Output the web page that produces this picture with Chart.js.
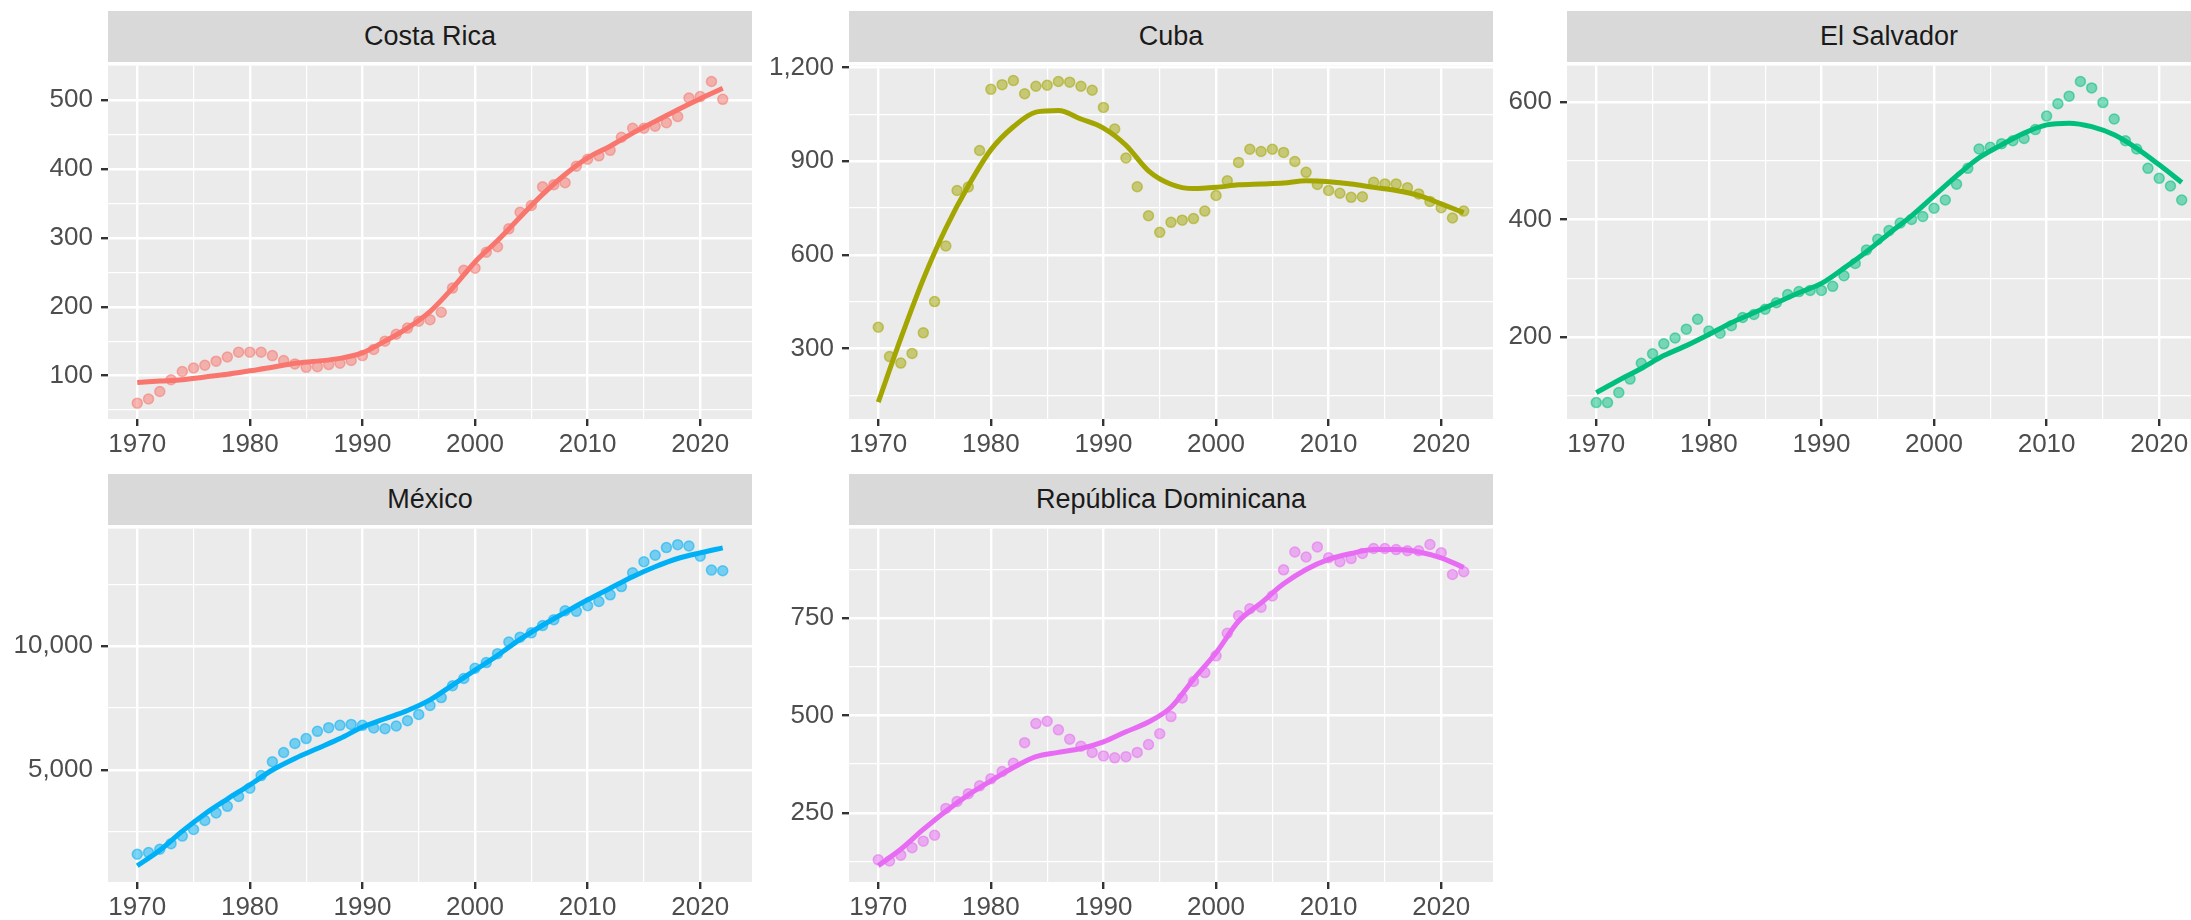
<!DOCTYPE html>
<html><head><meta charset="utf-8">
<script src="https://cdn.jsdelivr.net/npm/chart.js@4/dist/chart.umd.min.js"></script>
<style>
html,body{margin:0;padding:0;background:#fff;overflow:hidden;width:2191px;height:920px;}
#wrap{position:relative;width:2191px;height:920px;overflow:hidden;}
.strip{position:absolute;background:#D9D9D9;color:#1A1A1A;font-family:"Liberation Sans",Arial,sans-serif;font-size:27px;display:flex;align-items:center;justify-content:center;white-space:nowrap;}
canvas{position:absolute;}
</style></head><body><div id="wrap"></div>
<script>
// ---- data ----
const years = [1970,1971,1972,1973,1974,1975,1976,1977,1978,1979,1980,1981,1982,1983,1984,1985,1986,1987,1988,1989,1990,1991,1992,1993,1994,1995,1996,1997,1998,1999,2000,2001,2002,2003,2004,2005,2006,2007,2008,2009,2010,2011,2012,2013,2014,2015,2016,2017,2018,2019,2020,2021,2022];
const smoothYears = [1970,1972,1974,1976,1978,1980,1982,1984,1986,1988,1990,1992,1994,1996,1998,2000,2002,2004,2006,2008,2010,2012,2014,2016,2018,2020,2022];
const xTickValues = [1970,1975,1980,1985,1990,1995,2000,2005,2010,2015,2020];

const costaRica = [60,66,77,94,106,111,115,121,127,134, 134,134,129,122,117,112,113,116,118,122, 129,138,150,160,169,179,181,192,227,253, 256,279,287,313,337,347,374,377,380,404, 414,419,427,446,459,459,462,467,476,503, 505,527,501];
const costaRicaSmooth = [90,92,94,98,102,107,112,118,121,125,133,150,169,193,227,265,296,330,363,392,416,433,452,469,486,502,517];

const cuba = [368,274,253,284,350,450,628,806,817,934, 1130,1145,1158,1116,1140,1143,1155,1153,1140,1127, 1072,1003,910,818,725,672,704,711,716,740, 790,837,896,938,931,938,928,899,864,825, 806,797,784,786,832,827,827,815,795,771, 751,718,740];
const cubaSmooth = [128,332,522,685,821,936,1010,1057,1062,1035,1006,951,869,826,812,816,824,827,830,837,834,827,816,806,790,763,735];

const elSalvador = [88,88,105,128,155,171,188,198,213,230, 210,206,219,233,238,247,258,272,277,279, 279,286,304,325,348,366,381,394,400,405, 419,433,460,487,520,523,529,534,538,553, 576,597,610,635,624,599,571,534,520,487, 470,457,433];
const elSalvadorSmooth = [105,126,146,168,185,204,224,241,258,275,291,317,345,376,406,440,474,505,527,547,561,564,558,544,521,493,463];

const mexico = [1600,1667,1800,2027,2333,2600,2960,3267,3533,3933, 4267,4773,5333,5707,6067,6267,6560,6707,6800,6840, 6800,6693,6667,6773,6987,7240,7600,7920,8400,8693, 9107,9333,9693,10160,10360,10533,10827,11067,11427,11400, 11627,11800,12067,12400,12960,13400,13667,13973,14093,14040, 13627,13067,13040];
const mexicoSmooth = [1133,1760,2533,3227,3827,4400,5000,5467,5867,6267,6733,7067,7400,7827,8427,9027,9627,10267,10840,11360,11867,12333,12800,13200,13533,13760,13960];

const repDominicana = [129,126,141,160,177,192,261,279,299,319, 337,356,377,430,479,485,463,439,421,405, 396,391,394,405,425,453,497,545,587,610, 653,711,756,774,778,807,874,920,907,933, 905,895,903,916,929,929,926,923,923,939, 918,862,869];
const repDominicanaSmooth = [114,156,207,254,296,332,366,394,405,415,432,458,483,521,593,661,742,789,838,875,901,916,926,926,920,905,880];

const crMajor = [100,200,300,400,500], crMinor = [50,150,250,350,450];
const cuMajor = [300,600,900,1200], cuMinor = [150,450,750,1050];
const esMajor = [200,400,600], esMinor = [100,300,500];
const mxMajor = [5000,10000], mxMinor = [2500,7500,12500];
const drMajor = [250,500,750], drMinor = [125,375,625,875];

// ---- layout ----
const COL_L = [108, 849, 1567], ROW_T = [62, 525], STRIP_T = [11, 474];
const PW = 644, PH = 357, AXW = 120, PADT = 20, PADR = 20, AXH = 70, STRIP_H = 51;
const FONT = '"Liberation Sans", Arial, sans-serif';

const panels = [
  {name:'Costa Rica', color:[248,118,109], pts:costaRica, sm:costaRicaSmooth, yMin:37, yMax:550, major:crMajor, minor:crMinor, col:0, row:0},
  {name:'Cuba', color:[163,165,0], pts:cuba, sm:cubaSmooth, yMin:74, yMax:1206, major:cuMajor, minor:cuMinor, col:1, row:0},
  {name:'El Salvador', color:[0,191,125], pts:elSalvador, sm:elSalvadorSmooth, yMin:60, yMax:662, major:esMajor, minor:esMinor, col:2, row:0},
  {name:'México', color:[0,176,246], pts:mexico, sm:mexicoSmooth, yMin:480, yMax:14740, major:mxMajor, minor:mxMinor, col:0, row:1},
  {name:'República Dominicana', color:[231,107,243], pts:repDominicana, sm:repDominicanaSmooth, yMin:72, yMax:980, major:drMajor, minor:drMinor, col:1, row:1}
];

const rgba = (c,a) => `rgba(${c[0]},${c[1]},${c[2]},${a})`;
const bgPlugin = {id:'panelBg', beforeDraw(chart){const a=chart.chartArea,ctx=chart.ctx;ctx.save();ctx.fillStyle='#EBEBEB';ctx.fillRect(a.left,a.top,a.right-a.left,a.bottom-a.top);ctx.restore();}};

const wrap = document.getElementById('wrap');
panels.forEach(p => {
  const left = COL_L[p.col], top = ROW_T[p.row];
  const s = document.createElement('div');
  s.className = 'strip'; s.textContent = p.name;
  s.style.left = left+'px'; s.style.top = STRIP_T[p.row]+'px';
  s.style.width = PW+'px'; s.style.height = STRIP_H+'px';
  wrap.appendChild(s);
  const cv = document.createElement('canvas');
  cv.width = AXW+PW+PADR; cv.height = PADT+PH+AXH;
  cv.style.left = (left-AXW)+'px'; cv.style.top = (top-PADT)+'px';
  cv.style.width = cv.width+'px'; cv.style.height = cv.height+'px';
  wrap.appendChild(cv);
  const majorSet = new Set(p.major);
  const yTicks = p.major.concat(p.minor).sort((a,b)=>a-b);
  new Chart(cv, {
    type:'scatter',
    data:{datasets:[
      {type:'line', data:smoothYears.map((x,i)=>({x, y:p.sm[i]})), borderColor:rgba(p.color,1), borderWidth:5, pointRadius:0, cubicInterpolationMode:'monotone', fill:false, order:0},
      {type:'scatter', data:years.map((x,i)=>({x, y:p.pts[i]})), backgroundColor:rgba(p.color,0.5), borderColor:rgba(p.color,0.55), borderWidth:1.5, pointRadius:5, order:1}
    ]},
    options:{
      responsive:false, animation:false, devicePixelRatio:1, events:[],
      layout:{padding:{top:PADT, right:PADR, left:0, bottom:0}},
      plugins:{legend:{display:false}, tooltip:{enabled:false}, title:{display:false}},
      scales:{
        x:{type:'linear', min:1967.4, max:2024.6,
          afterBuildTicks:sc=>{sc.ticks = xTickValues.map(v=>({value:v}));},
          afterFit:sc=>{sc.height = AXH;},
          border:{display:false},
          grid:{color:'#FFFFFF', lineWidth:c=>(c.tick && c.tick.value%10===0)?2.4:1.2, drawTicks:true, tickLength:7,
                tickColor:c=>(c.tick && c.tick.value%10===0)?'#333333':'rgba(0,0,0,0)', tickWidth:2.4},
          ticks:{autoSkip:false, maxRotation:0, minRotation:0, padding:3, color:'#4D4D4D', font:{family:FONT, size:26},
                 callback:v=>(v%10===0)?String(v):''}
        },
        y:{type:'linear', min:p.yMin, max:p.yMax,
          afterBuildTicks:sc=>{sc.ticks = yTicks.map(v=>({value:v}));},
          afterFit:sc=>{sc.width = AXW;},
          border:{display:false},
          grid:{color:'#FFFFFF', lineWidth:c=>(c.tick && majorSet.has(c.tick.value))?2.4:1.2, drawTicks:true, tickLength:7,
                tickColor:c=>(c.tick && majorSet.has(c.tick.value))?'#333333':'rgba(0,0,0,0)', tickWidth:2.4},
          ticks:{autoSkip:false, padding:8, color:'#4D4D4D', font:{family:FONT, size:26},
                 callback:v=>majorSet.has(v)?v.toLocaleString('en-US'):''}
        }
      }
    },
    plugins:[bgPlugin]
  });
});
</script></body></html>
